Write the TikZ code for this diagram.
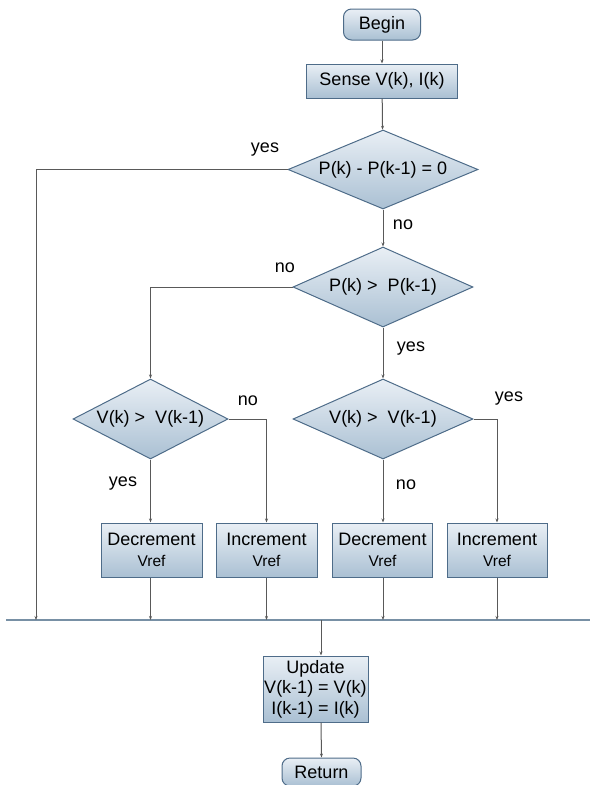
\documentclass[tikz,border=0pt]{standalone}
\usepackage{fontspec}
\setmainfont{Liberation Sans}
\usetikzlibrary{shapes.geometric,arrows.meta}
\definecolor{boxtop}{HTML}{E9EFF5}
\definecolor{boxbot}{HTML}{AAC0D3}
\definecolor{boxedge}{HTML}{4E6C89}
\definecolor{linec}{HTML}{595959}
\definecolor{busc}{HTML}{7890A5}
\tikzset{
  txt/.style={font=\fontsize{18}{20.5}\selectfont, text=black},
  procbox/.style={draw=boxedge, line width=1pt, top color=boxtop, bottom color=boxbot,
    inner sep=0pt, align=center, txt},
  termbox/.style={procbox, rounded corners=8pt},
  dia/.style={diamond, draw=boxedge, line width=1pt, top color=boxtop, bottom color=boxbot, inner sep=0pt},
  conn/.style={draw=linec, line width=1pt, -{Stealth[length=4pt,width=3pt]}},
  lbl/.style={txt},
}
\newcommand{\vrefsmall}{{\fontsize{15.5}{20.5}\selectfont Vref}}
\begin{document}
\begin{tikzpicture}[x=1pt,y=-1pt]
\useasboundingbox (0,0) rectangle (590,785);
% nodes
\node[termbox, minimum width=77pt, minimum height=31pt] (begin) at (382,24.5) {Begin};
\node[procbox, minimum width=151pt, minimum height=34pt] (sense) at (382,81) {Sense V(k), I(k)};
\node[dia, minimum width=190pt, minimum height=79pt] (d1) at (383,169.5) {};
\node[txt] (t1) at (d1) {P(k) - P(k-1) = 0};
\node[dia, minimum width=180pt, minimum height=80pt] (d2) at (383,287) {};
\node[txt] (t2) at (d2) {P(k) > \ P(k-1)};
\node[dia, minimum width=155pt, minimum height=80pt] (d3) at (150.5,419) {};
\node[txt] (t3) at (d3) {V(k) > \ V(k-1)};
\node[dia, minimum width=180pt, minimum height=80pt] (d4) at (383,419) {};
\node[txt] (t4) at (d4) {V(k) > \ V(k-1)};
\node[procbox, minimum width=101pt, minimum height=54pt] (dec1) at (151.5,550) {Decrement\\\vrefsmall};
\node[procbox, minimum width=101pt, minimum height=54pt] (inc1) at (266.5,550) {Increment\\\vrefsmall};
\node[procbox, minimum width=100pt, minimum height=54pt] (dec2) at (382.5,550) {Decrement\\\vrefsmall};
\node[procbox, minimum width=100pt, minimum height=54pt] (inc2) at (497,550) {Increment\\\vrefsmall};
\node[procbox, minimum width=105pt, minimum height=66pt] (upd) at (315.5,689) {Update\\V(k-1) = V(k)\\I(k-1) = I(k)};
\node[termbox, minimum width=79pt, minimum height=28pt] (ret) at (321.5,772) {Return};
% bus
\coordinate (busL) at (6,620);
\coordinate (busR) at (590,620);
\coordinate (bl) at (36,620);
\coordinate (j) at (321,620);
\draw[busc, line width=1.6pt] (busL) -- (busR);
% connectors
\draw[conn] (begin) -- (sense);
\draw[conn] (sense) -- (d1);
\draw[conn] (d1.west) -| (bl);
\draw[conn] (d1.south) -- (d2.north);
\draw[conn] (d2.west) -| (d3.north);
\draw[conn] (d2.south) -- (d4.north);
\draw[conn] (d3.south) -- (d3.south |- dec1.north);
\draw[conn] (d3.east) -| (inc1.north);
\draw[conn] (d4.south) -- (d4.south |- dec2.north);
\draw[conn] (d4.east) -| (inc2.north);
\draw[conn] (d3.south |- dec1.south) -- (d3.south |- bl);
\draw[conn] (inc1.south) -- (inc1.south |- bl);
\draw[conn] (d4.south |- dec2.south) -- (d4.south |- bl);
\draw[conn] (inc2.south) -- (inc2.south |- bl);
\draw[conn] (j) -- (j |- upd.north);
\draw[conn] (j |- upd.south) -- (ret.north);
% labels
\node[lbl] (l1) at (265,150) {yes};
\node[lbl] (l2) at (403,225) {no};
\node[lbl] (l3) at (285,268) {no};
\node[lbl] (l4) at (411,349) {yes};
\node[lbl] (l5) at (248,401) {no};
\node[lbl] (l6) at (123,484) {yes};
\node[lbl] (l7) at (406,485) {no};
\node[lbl] (l8) at (509,399) {yes};
\end{tikzpicture}
\end{document}
